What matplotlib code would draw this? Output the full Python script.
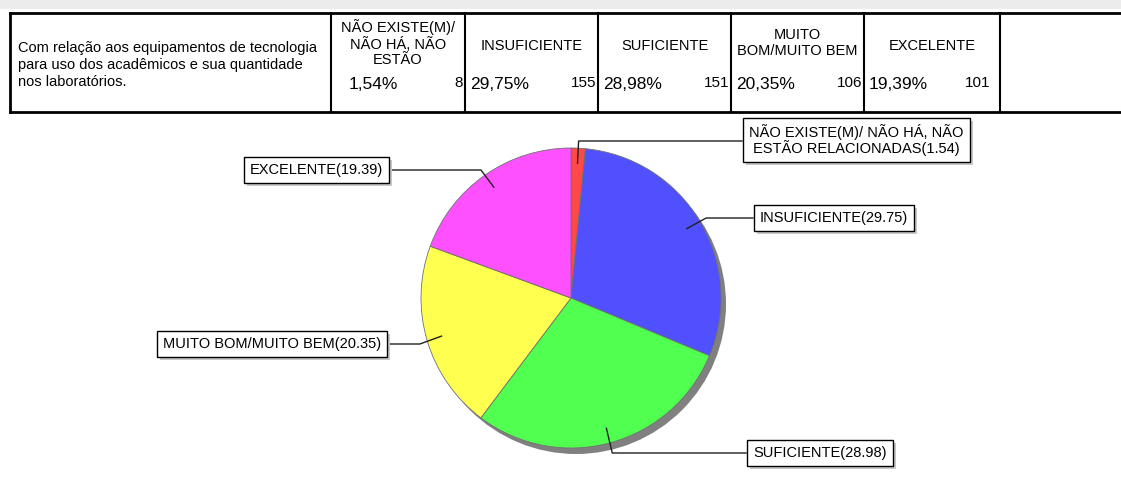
import numpy as np
import matplotlib.pyplot as plt
from matplotlib.patches import Rectangle, Circle

plt.rcParams['font.family'] = ['Liberation Sans', 'DejaVu Sans']

question = "Com relação aos equipamentos de tecnologia\npara uso dos acadêmicos e sua quantidade\nnos laboratórios."
headers = ["NÃO EXISTE(M)/\nNÃO HÁ, NÃO\nESTÃO", "INSUFICIENTE", "SUFICIENTE",
           "MUITO\nBOM/MUITO BEM", "EXCELENTE"]
pie_names = ["NÃO EXISTE(M)/ NÃO HÁ, NÃO\nESTÃO RELACIONADAS", "INSUFICIENTE", "SUFICIENTE",
             "MUITO BOM/MUITO BEM", "EXCELENTE"]
percents = [1.54, 29.75, 28.98, 20.35, 19.39]
counts = [8, 155, 151, 106, 101]
colors = ['#FF4848', '#5050FF', '#50FF50', '#FFFF50', '#FF50FF']

W, H = 1121, 490
def Y(y):
    return H - y

fig = plt.figure(figsize=(W / 100, H / 100), dpi=100)
ax = fig.add_axes([0, 0, 1, 1])

# top grey strip
ax.add_patch(Rectangle((0, Y(9)), W, 9, color='#ececec', lw=0, zorder=0))

# table
col_x = [331, 465, 598, 731, 864, 1000]
top, bot = 13, 112
ax.plot([10, W + 5], [Y(top), Y(top)], color='k', lw=2)
ax.plot([10, W + 5], [Y(bot), Y(bot)], color='k', lw=2)
ax.plot([10, 10], [Y(top), Y(bot)], color='k', lw=2)
for x in col_x:
    ax.plot([x, x], [Y(top), Y(bot)], color='k', lw=1.5)
ax.text(18, Y(65), question, fontsize=10.5, ha='left', va='center', linespacing=1.25)
for i, h in enumerate(headers):
    x0, x1 = col_x[i], col_x[i + 1]
    ax.text((x0 + x1) / 2, Y(43 if '\n' in h else 46), h, fontsize=10.5,
            ha='center', va='center', linespacing=1.14)
    ax.text(x0 + 5 + (13 if i == 0 else 0), Y(85), f"{percents[i]:.2f}%".replace('.', ','),
            fontsize=12.5, ha='left', va='center')
    ax.text(x1 - 2 - (8 if i == 4 else 0), Y(83), str(counts[i]), fontsize=11,
            ha='right', va='center')

# pie
cx, cy, R = 571, Y(298), 150
ax.add_patch(Circle((cx + 5, cy - 6), R, color='#808080', lw=0, zorder=1))
wedges, _ = ax.pie(percents, colors=colors, startangle=90, counterclock=False,
                   center=(cx, cy), radius=R,
                   wedgeprops=dict(edgecolor='#707070', linewidth=0.6))
for w in wedges:
    w.set_zorder(2)

ax.set_xlim(0, W)
ax.set_ylim(0, H)
ax.set_aspect('auto')
ax.axis('off')

# labels
boxes = [(742, 141), (753, 218), (746, 453), (388, 344), (390, 170)]
aligns = ['left', 'left', 'left', 'right', 'right']
labels = []
start = 90.0
for i, (name, p) in enumerate(zip(pie_names, percents)):
    mid = np.deg2rad(start - p * 3.6 / 2)
    start -= p * 3.6
    p1 = (cx + 0.9 * R * np.cos(mid), cy + 0.9 * R * np.sin(mid))
    p2 = (cx + 1.05 * R * np.cos(mid), Y(boxes[i][1]))
    bx = boxes[i][0]
    ax.plot([p1[0], p2[0], bx], [p1[1], p2[1], p2[1]], color='#202020', lw=1, zorder=3)
    ty = Y(boxes[i][1]) + (1 if i == 0 else 0)
    off = 7 if aligns[i] == 'left' else -7
    t = ax.text(bx + off, ty, f"{name}({p:.2f})", fontsize=10.5, ha=aligns[i],
                va='center', multialignment='center', linespacing=1.0, zorder=4,
                bbox=dict(boxstyle='square,pad=0.42', fc='white', ec='black', lw=1))
    labels.append(t)

# box shadows
fig.canvas.draw()
for t in labels:
    bb = t.get_bbox_patch().get_window_extent()
    ax.add_patch(Rectangle((bb.x0 + 3, bb.y0 - 3), bb.width, bb.height,
                           fc='#c8c8c8', ec='none', zorder=3.5))

fig.savefig('out.png', dpi=100)
